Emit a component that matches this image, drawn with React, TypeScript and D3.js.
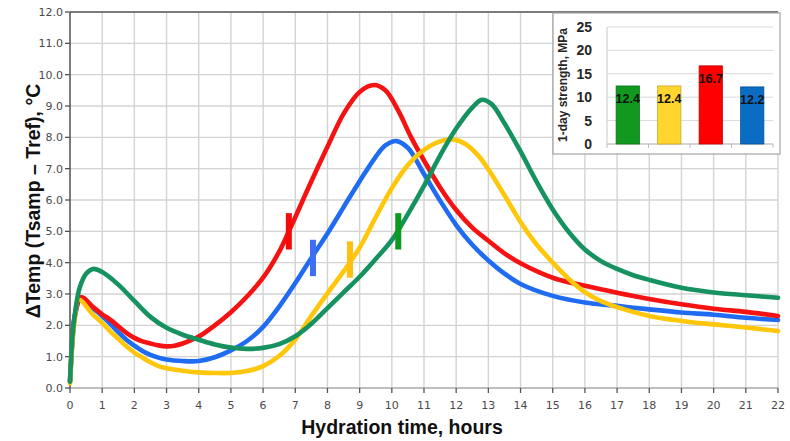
import React from 'react';
import * as d3 from 'd3';

const xTicks = d3.range(0, 23);
const yTicks = d3.range(0, 13);

const greenData: [number, number][] = [
  [0, 0.2], [0.08, 1.7], [0.15, 2.35], [0.3, 3.2], [0.5, 3.65], [0.72, 3.8], [1.0, 3.7], [1.5, 3.3],
  [2.0, 2.78], [2.5, 2.27], [3.0, 1.92], [3.5, 1.7], [4.0, 1.54], [4.5, 1.39], [5.0, 1.29], [5.5, 1.25],
  [6.0, 1.28], [6.5, 1.4], [7.0, 1.65], [7.5, 2.05], [8.0, 2.55], [8.5, 3.05], [9.0, 3.55], [9.5, 4.12],
  [10.0, 4.72], [10.5, 5.55], [11.0, 6.45], [11.5, 7.42], [12.0, 8.28], [12.5, 8.95], [12.8, 9.2], [13.1, 9.06],
  [13.5, 8.45], [14.0, 7.55], [14.5, 6.58], [15.0, 5.7], [15.5, 4.98], [16.0, 4.42], [16.5, 4.05], [17.0, 3.8],
  [17.5, 3.6], [18.0, 3.45], [19.0, 3.2], [20.0, 3.05], [21.0, 2.96], [22.0, 2.88],
];

const yellowData: [number, number][] = [
  [0, 0.15], [0.08, 1.5], [0.15, 2.2], [0.27, 2.82], [0.7, 2.36], [1.0, 2.08], [1.25, 1.81], [1.5, 1.57],
  [1.75, 1.33], [2.0, 1.13], [2.25, 0.97], [2.5, 0.82], [2.75, 0.7], [3.0, 0.63], [3.5, 0.55], [4.0, 0.5],
  [4.5, 0.48], [5.0, 0.48], [5.5, 0.54], [6.0, 0.7], [6.5, 1.02], [7.0, 1.55], [7.5, 2.3], [8.0, 3.02],
  [8.5, 3.72], [9.0, 4.48], [9.5, 5.45], [10.0, 6.38], [10.5, 7.12], [11.0, 7.6], [11.5, 7.87], [11.9, 7.93],
  [12.3, 7.78], [12.7, 7.4], [13.0, 6.98], [13.5, 6.15], [14.0, 5.3], [14.5, 4.58], [15.0, 4.0], [15.5, 3.48],
  [16.0, 3.06], [16.5, 2.77], [17.0, 2.58], [18.0, 2.3], [19.0, 2.14], [20.0, 2.03], [21.0, 1.93], [22.0, 1.82],
];

const blueData: [number, number][] = [
  [0, 0.2], [0.08, 1.6], [0.15, 2.3], [0.33, 2.85], [0.7, 2.55], [1.0, 2.3], [1.25, 2.05], [1.5, 1.78],
  [1.75, 1.54], [2.0, 1.35], [2.25, 1.18], [2.5, 1.06], [2.75, 0.97], [3.0, 0.91], [3.5, 0.86], [4.0, 0.86],
  [4.5, 0.98], [5.0, 1.2], [5.5, 1.5], [6.0, 1.95], [6.5, 2.6], [7.0, 3.35], [7.5, 4.15], [8.0, 4.93],
  [8.5, 5.77], [9.0, 6.6], [9.5, 7.38], [9.8, 7.74], [10.15, 7.88], [10.5, 7.66], [11.0, 6.83], [11.5, 5.98],
  [12.0, 5.2], [12.5, 4.57], [13.0, 4.07], [13.5, 3.65], [14.0, 3.32], [15.0, 2.94], [16.0, 2.73], [17.0, 2.62],
  [18.0, 2.51], [19.0, 2.41], [20.0, 2.34], [21.0, 2.24], [22.0, 2.17],
];

const redData: [number, number][] = [
  [0, 0.2], [0.08, 1.6], [0.15, 2.3], [0.35, 2.9], [0.7, 2.6], [1.0, 2.35], [1.25, 2.18], [1.5, 1.97],
  [1.75, 1.76], [2.0, 1.6], [2.25, 1.49], [2.5, 1.42], [2.75, 1.36], [3.0, 1.33], [3.25, 1.35], [3.5, 1.42],
  [3.75, 1.52], [4.0, 1.64], [4.5, 2.0], [5.0, 2.42], [5.5, 2.92], [6.0, 3.52], [6.5, 4.35], [6.8, 5.0],
  [7.0, 5.45], [7.5, 6.6], [8.0, 7.7], [8.5, 8.75], [9.0, 9.45], [9.45, 9.67], [9.8, 9.5], [10.2, 8.85],
  [10.6, 8.0], [11.0, 7.26], [11.5, 6.4], [12.0, 5.68], [12.5, 5.12], [13.0, 4.7], [13.5, 4.3], [14.0, 3.98],
  [15.0, 3.52], [16.0, 3.26], [17.0, 3.04], [18.0, 2.84], [19.0, 2.67], [20.0, 2.53], [21.0, 2.43], [22.0, 2.3],
];

const seriesNames = ['blue', 'red', 'yellow', 'green'];
const seriesData = [blueData, redData, yellowData, greenData];
const seriesColors = ['#1f6cf2', '#f51212', '#ffc60a', '#169260'];

const markerHours = [6.8, 7.55, 8.7, 10.2];
const markerValues = [5.0, 4.15, 4.1, 5.0];
const markerColors = ['#f50a0a', '#3f6ef2', '#ffbf10', '#0b9a1e'];

const barCategories = ['green', 'yellow', 'red', 'blue'];
const barValues = [12.4, 12.4, 16.7, 12.2];
const barLabels = ['12.4', '12.4', '16.7', '12.2'];
const barColors = ['#11991f', '#ffd52e', '#ff0000', '#0b6cc4'];
const barStrokes = ['#0b7016', '#c9a420', '#c00000', '#08508f'];
const barTicks = [0, 5, 10, 15, 20, 25];

export default function App() {
  const W = 790;
  const H = 441;
  const x = d3.scaleLinear().domain([0, 22]).range([70, 778]);
  const y = d3.scaleLinear().domain([0, 12]).range([388, 12]);
  const line = d3
    .line<[number, number]>()
    .x((d) => x(d[0]))
    .y((d) => y(d[1]))
    .curve(d3.curveCatmullRom.alpha(0.5));

  const bx = d3.scaleBand<string>().domain(barCategories).range([607, 773]).paddingInner(0.44).paddingOuter(0.22);
  const by = d3.scaleLinear().domain([0, 25]).range([144, 27]);
  const boundaries = d3.range(0, barCategories.length + 1).map((i) => 607 + (i * (773 - 607)) / barCategories.length);

  const tickFont = "'DejaVu Sans', Verdana, sans-serif";
  const boldFont = "'Liberation Sans', Arial, sans-serif";

  return (
    <svg
      width={W}
      height={H}
      style={{ position: 'absolute', left: 0, top: 0, background: '#fff' }}
    >
      <rect x={0} y={0} width={W} height={H} fill="#fff" />
      {xTicks.slice(1).map((t) => (
        <line key={'gx' + t} x1={x(t)} x2={x(t)} y1={y(12)} y2={y(0)} stroke="#d3d3d3" strokeWidth={1.4} />
      ))}
      {yTicks.slice(1).map((t) => (
        <line key={'gy' + t} x1={x(0)} x2={x(22)} y1={y(t)} y2={y(t)} stroke="#d3d3d3" strokeWidth={1.4} />
      ))}
      <line x1={x(0)} x2={x(22)} y1={y(12)} y2={y(12)} stroke="#5a5a5a" strokeWidth={1.6} />
      <line x1={x(0)} x2={x(22)} y1={y(0)} y2={y(0)} stroke="#a8a8a8" strokeWidth={1.4} />
      <line x1={x(0)} x2={x(0)} y1={y(12)} y2={y(0)} stroke="#5a5a5a" strokeWidth={1.6} />
      {yTicks.map((t) => (
        <g key={'yt' + t}>
          <line x1={x(0) - 5} x2={x(0)} y1={y(t)} y2={y(t)} stroke="#555" strokeWidth={1.3} />
          <text
            x={x(0) - 7}
            y={y(t)}
            dy="0.35em"
            textAnchor="end"
            fontFamily={tickFont}
            fontSize={11}
            fill="#4a4a4a"
          >
            {d3.format('.1f')(t)}
          </text>
        </g>
      ))}
      {xTicks.map((t) => (
        <g key={'xt' + t}>
          <line x1={x(t)} x2={x(t)} y1={y(0)} y2={y(0) + 5} stroke="#555" strokeWidth={1.3} />
          <text x={x(t)} y={y(0) + 21} textAnchor="middle" fontFamily={tickFont} fontSize={11} fill="#4a4a4a">
            {t}
          </text>
        </g>
      ))}
      <text x={402} y={434} textAnchor="middle" fontFamily={boldFont} fontWeight="bold" fontSize={19.5} fill="#111">
        Hydration time, hours
      </text>
      <text
        transform={`translate(40,${201}) rotate(-90)`}
        textAnchor="middle"
        fontFamily={boldFont}
        fontWeight="bold"
        fontSize={19.5}
        fill="#111"
      >
        ΔTemp (Tsamp – Tref), °C
      </text>
      {seriesData.map((d, i) => (
        <path
          key={seriesNames[i]}
          d={line(d) || ''}
          fill="none"
          stroke={seriesColors[i]}
          strokeWidth={4.6}
          strokeLinejoin="round"
          strokeLinecap="round"
        />
      ))}
      {markerHours.map((h, i) => (
        <rect
          key={'m' + i}
          x={x(h) - 3}
          y={y(markerValues[i] + 0.58)}
          width={6}
          height={y(markerValues[i] - 0.58) - y(markerValues[i] + 0.58)}
          fill={markerColors[i]}
        />
      ))}
      <rect x={553} y={13} width={227} height={141} fill="#fff" stroke="#a3a3a3" strokeWidth={1.2} />
      {barTicks.map((t) => (
        <g key={'bt' + t}>
          <line x1={607} x2={773} y1={by(t)} y2={by(t)} stroke="#d9d9d9" strokeWidth={1} />
          <text
            x={592}
            y={by(t)}
            dy="0.36em"
            textAnchor="end"
            fontFamily={boldFont}
            fontWeight="bold"
            fontSize={14}
            fill="#262626"
          >
            {t}
          </text>
        </g>
      ))}
      <line x1={607} x2={607} y1={by(25)} y2={by(0)} stroke="#c8c8c8" strokeWidth={1} />
      <line x1={607} x2={773} y1={by(0)} y2={by(0)} stroke="#bdbdbd" strokeWidth={1} />
      {boundaries.map((b, i) => (
        <line key={'bb' + i} x1={b} x2={b} y1={by(0)} y2={by(0) + 4} stroke="#bdbdbd" strokeWidth={1} />
      ))}
      {barCategories.map((c, i) => (
        <g key={'bar' + c}>
          <rect
            x={bx(c)}
            y={by(barValues[i])}
            width={bx.bandwidth()}
            height={by(0) - by(barValues[i])}
            fill={barColors[i]}
            stroke={barStrokes[i]}
            strokeWidth={0.8}
          />
          <text
            x={(bx(c) || 0) + bx.bandwidth() / 2}
            y={by(barValues[i]) + 13}
            dy="0.36em"
            textAnchor="middle"
            fontFamily={boldFont}
            fontWeight="bold"
            fontSize={12.5}
            fill="#111"
          >
            {barLabels[i]}
          </text>
        </g>
      ))}
      <text
        transform={`translate(567,${85}) rotate(-90)`}
        textAnchor="middle"
        fontFamily={boldFont}
        fontWeight="bold"
        fontSize={12}
        fill="#262626"
      >
        1-day strength, MPa
      </text>
    </svg>
  );
}
